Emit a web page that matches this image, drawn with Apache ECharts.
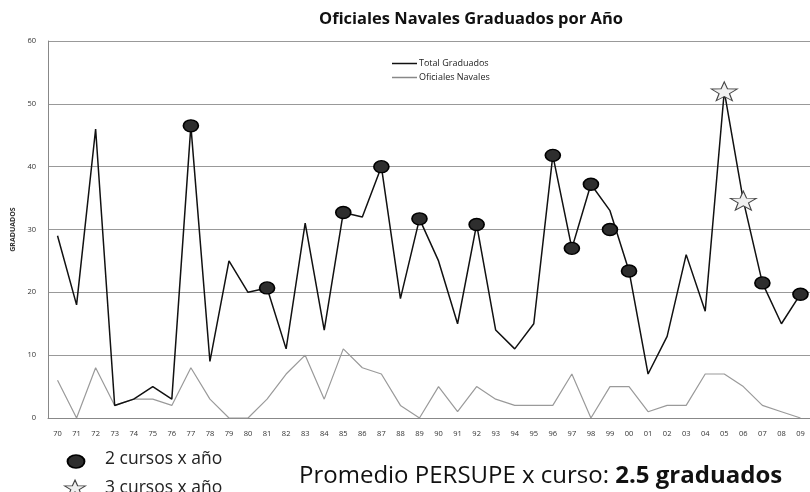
<!DOCTYPE html>
<html>
<head>
<meta charset="utf-8">
<script src="https://cdn.jsdelivr.net/npm/echarts@6/dist/echarts.min.js"></script>
<style>
  html, body { margin: 0; padding: 0; background: #fff; }
  #chart { width: 810px; height: 492px; }
</style>
</head>
<body>
<div id="chart"></div>
<script>
  // años (70 .. 09)
  const years = ['70', '71', '72', '73', '74', '75', '76', '77', '78', '79',
    '80', '81', '82', '83', '84', '85', '86', '87', '88', '89',
    '90', '91', '92', '93', '94', '95', '96', '97', '98', '99',
    '00', '01', '02', '03', '04', '05', '06', '07', '08', '09'];
  const totalGraduados = [29, 18, 46, 2, 3, 5, 3, 46.5, 9, 25,
    20, 20.7, 11, 31, 14, 32.7, 32, 40, 19, 31.7,
    25, 15, 30.8, 14, 11, 15, 41.8, 27, 37.2, 33,
    23.4, 7, 13, 26, 17, 52, 34.6, 21.5, 15, 19.7];
  const oficialesNavales = [6, 0, 8, 2, 3, 3, 2, 8, 3, 0,
    0, 3, 7, 10, 3, 11, 8, 7, 2, 0,
    5, 1, 5, 3, 2, 2, 2, 7, 0, 5,
    5, 1, 2, 2, 7, 7, 5, 2, 1, 0];
  // marcas: 2 cursos x año / 3 cursos x año
  const dosCursosYears = ['77', '81', '85', '87', '89', '92', '96', '97', '98', '99', '00', '07', '09'];
  const dosCursosValues = [46.5, 20.7, 32.7, 40, 31.7, 30.8, 41.8, 27, 37.2, 30, 23.4, 21.5, 19.7];
  const tresCursosYears = ['05', '06'];
  const tresCursosValues = [52, 34.6];
  const yTicks = [0, 10, 20, 30, 40, 50, 60];

  // estrella de 5 puntas (caja 0..100)
  const starPts = [[50, 0], [61.8, 33.8], [97.6, 34.5], [69, 56.2], [79.4, 90.5],
    [50, 70], [20.6, 90.5], [31, 56.2], [2.4, 34.5], [38.2, 33.8]];
  const starD = 'M' + starPts.map(p => p[0] + ' ' + p[1]).join(' L') + ' Z';
  const fontFam = '"Open Sans", "Noto Sans", sans-serif';

  const chart = echarts.init(document.getElementById('chart'));
  const option = {
    animation: false,
    title: {
      text: 'Oficiales Navales Graduados por Año',
      left: 466,
      textAlign: 'center',
      top: 6,
      textStyle: { fontSize: 16.5, fontWeight: 'bold', color: '#111', fontFamily: fontFam }
    },
    grid: { left: 48, top: 41, bottom: 74, width: 771 },
    legend: {
      data: [
        { name: 'Total Graduados', itemStyle: { color: '#111' } },
        { name: 'Oficiales Navales', itemStyle: { color: '#888' } }
      ],
      icon: 'rect',
      orient: 'vertical',
      left: 387,
      top: 54,
      itemWidth: 25,
      itemHeight: 1.5,
      itemGap: 5,
      textStyle: { fontSize: 9, color: '#222', fontFamily: fontFam, padding: [0, 0, 0, -3] }
    },
    xAxis: {
      type: 'category',
      data: years,
      boundaryGap: true,
      axisLine: { show: true, lineStyle: { color: '#888' } },
      axisTick: { show: false },
      axisLabel: { fontSize: 7.5, color: '#333', margin: 12, interval: 0, fontFamily: fontFam }
    },
    yAxis: {
      type: 'value',
      min: yTicks[0],
      max: yTicks[yTicks.length - 1],
      interval: 10,
      name: 'GRADUADOS',
      nameLocation: 'middle',
      nameRotate: 90,
      nameGap: 31,
      nameTextStyle: { fontSize: 7, fontWeight: 'bold', color: '#333', fontFamily: fontFam },
      axisLine: { show: true, lineStyle: { color: '#888' } },
      axisTick: { show: false },
      axisLabel: { fontSize: 7.5, color: '#333', margin: 12, fontFamily: fontFam },
      splitLine: { show: true, lineStyle: { color: '#999', width: 1 } }
    },
    series: [
      {
        name: 'Total Graduados',
        type: 'line',
        data: totalGraduados,
        symbol: 'none',
        lineStyle: { color: '#111', width: 1.5 },
        itemStyle: { color: '#111' },
        z: 3
      },
      {
        name: 'Oficiales Navales',
        type: 'line',
        data: oficialesNavales,
        symbol: 'none',
        lineStyle: { color: '#9a9a9a', width: 1.2 },
        itemStyle: { color: '#9a9a9a' },
        z: 2
      },
      {
        name: '2 cursos x año',
        type: 'scatter',
        data: dosCursosYears.map((y, i) => [y, dosCursosValues[i]]),
        symbol: 'circle',
        symbolSize: [15, 12],
        itemStyle: { color: '#2e2e2e', borderColor: '#000', borderWidth: 1.5, opacity: 1 },
        z: 5
      },
      {
        name: '3 cursos x año',
        type: 'scatter',
        data: tresCursosYears.map((y, i) => [y, tresCursosValues[i]]),
        symbol: 'path://' + starD,
        symbolSize: [26, 19],
        itemStyle: { color: '#f0f0f0', borderColor: '#444', borderWidth: 1, opacity: 1 },
        z: 5
      }
    ],
    graphic: [
      {
        type: 'circle',
        x: 76, y: 461.5,
        scaleX: 1.3,
        shape: { cx: 0, cy: 0, r: 6.5 },
        style: { fill: '#2e2e2e', stroke: '#000', lineWidth: 1.5 }
      },
      {
        type: 'text',
        x: 105, y: 459.5,
        style: { text: '2 cursos x año', fontSize: 17.5, fill: '#222', fontFamily: fontFam, verticalAlign: 'middle' }
      },
      {
        type: 'polygon',
        x: 64, y: 480,
        scaleX: 0.22, scaleY: 0.17,
        shape: { points: starPts },
        style: { fill: '#f0f0f0', stroke: '#444', lineWidth: 1, strokeNoScale: true }
      },
      {
        type: 'text',
        x: 105, y: 488.5,
        style: { text: '3 cursos x año', fontSize: 17.5, fill: '#222', fontFamily: fontFam, verticalAlign: 'middle' }
      },
      {
        type: 'text',
        x: 299, y: 476.5,
        style: {
          text: '{n|Promedio PERSUPE x curso: }{b|2.5 graduados}',
          verticalAlign: 'middle',
          rich: {
            n: { fontSize: 24, fill: '#111', fontFamily: fontFam },
            b: { fontSize: 24, fontWeight: 'bold', fill: '#111', fontFamily: fontFam }
          }
        }
      }
    ]
  };
  chart.setOption(option);
</script>
</body>
</html>
